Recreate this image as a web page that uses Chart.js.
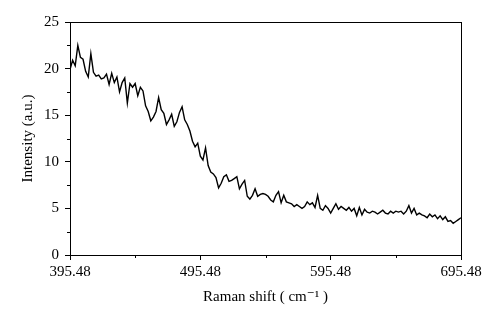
<!DOCTYPE html>
<html>
<head>
<meta charset="utf-8">
<script src="https://cdn.jsdelivr.net/npm/chart.js@4.4.1/dist/chart.umd.min.js"></script>
<style>
  html, body { margin: 0; padding: 0; background: #fff; }
  canvas { display: block; }
</style>
</head>
<body>
<canvas id="ramanChart" width="500" height="323"></canvas>
<script>
// sampling grid of the spectrum (cm^-1)
const shiftStart = 395.48;
const shiftStep = 2;

// intensity, one value per sample
const intensity = [
    19.9, 20.9, 20.3, 22.5, 21.2, 21.0, 19.7, 19.1, 21.6, 19.6,
    19.2, 19.3, 18.9, 19.0, 19.4, 18.3, 19.5, 18.5, 19.1, 17.5,
    18.5, 19.0, 16.3, 18.4, 18.0, 18.4, 17.1, 18.0, 17.6, 16.0,
    15.4, 14.4, 14.8, 15.4, 16.9, 15.6, 15.2, 14.0, 14.5, 15.1,
    13.8, 14.3, 15.3, 15.9, 14.5, 14.0, 13.3, 12.2, 11.6, 12.0,
    10.6, 10.2, 11.5, 9.6, 8.9, 8.7, 8.3, 7.2, 7.7, 8.4,
    8.6, 7.9, 8.0, 8.2, 8.4, 7.1, 7.6, 8.0, 6.3, 6.0,
    6.4, 7.1, 6.3, 6.5, 6.6, 6.5, 6.3, 5.9, 5.7, 6.4,
    6.8, 5.6, 6.4, 5.7, 5.6, 5.5, 5.2, 5.4, 5.2, 5.0,
    5.2, 5.7, 5.4, 5.6, 5.1, 6.4, 5.0, 4.8, 5.3, 5.0,
    4.5, 5.0, 5.5, 4.9, 5.2, 5.0, 4.8, 5.1, 4.7, 5.0,
    4.2, 5.1, 4.3, 4.9, 4.6, 4.5, 4.7, 4.6, 4.4, 4.6,
    4.8, 4.5, 4.4, 4.7, 4.5, 4.7, 4.6, 4.7, 4.4, 4.7,
    5.3, 4.5, 5.0, 4.3, 4.5, 4.3, 4.2, 4.0, 4.4, 4.1,
    4.3, 3.9, 4.2, 3.8, 4.1, 3.6, 3.7, 3.4, 3.6, 3.8,
    4.0
];

const xTicks = [395.48, 495.48, 595.48, 695.48];
const xMinorTicks = [445.48, 545.48, 645.48];
const yTicks = [0, 5, 10, 15, 20, 25];
const yMinorTicks = [2.5, 7.5, 12.5, 17.5, 22.5];

const points = intensity.map((v, i) => ({ x: shiftStart + i * shiftStep, y: v }));

const serif = "'Liberation Serif', 'DejaVu Serif', serif";

// box around the plot plus the short minor ticks
const frameAndMinor = {
    id: 'frameAndMinor',
    afterDraw(chart) {
        const { ctx, chartArea: a, scales } = chart;
        ctx.save();
        ctx.strokeStyle = '#000';
        ctx.lineWidth = 1;
        ctx.strokeRect(a.left + 0.5, a.top + 0.5, a.right - a.left, a.bottom - a.top);
        ctx.beginPath();
        xMinorTicks.forEach(v => {
            const px = Math.round(scales.x.getPixelForValue(v)) + 0.5;
            ctx.moveTo(px, a.bottom);
            ctx.lineTo(px, a.bottom + 3);
        });
        yMinorTicks.forEach(v => {
            const py = Math.round(scales.y.getPixelForValue(v)) + 0.5;
            ctx.moveTo(a.left, py);
            ctx.lineTo(a.left - 3, py);
        });
        ctx.stroke();
        ctx.restore();
    }
};

new Chart(document.getElementById('ramanChart'), {
    type: 'line',
    data: {
        datasets: [{
            data: points,
            borderColor: '#000',
            borderWidth: 1.4,
            pointRadius: 0,
            tension: 0,
            fill: false
        }]
    },
    options: {
        responsive: false,
        animation: false,
        layout: { padding: { left: 0, top: 22, right: 39, bottom: 0 } },
        plugins: { legend: { display: false }, tooltip: { enabled: false } },
        scales: {
            x: {
                type: 'linear',
                min: 395.48,
                max: 695.48,
                afterBuildTicks: s => { s.ticks = xTicks.map(v => ({ value: v })); },
                afterFit: s => { s.height = 68; },
                ticks: {
                    color: '#000',
                    font: { family: serif, size: 15 },
                    padding: 3,
                    maxRotation: 0,
                    callback: v => v.toFixed(2)
                },
                grid: { drawOnChartArea: false, drawTicks: true, tickLength: 5, color: '#000', tickColor: '#000' },
                border: { color: '#000', width: 1 },
                title: {
                    display: true,
                    text: 'Raman shift ( cm\u207B\u00B9 )',
                    color: '#000',
                    font: { family: serif, size: 15 },
                    padding: { top: 0, bottom: 17 }
                }
            },
            y: {
                min: 0,
                max: 25,
                afterBuildTicks: s => { s.ticks = yTicks.map(v => ({ value: v })); },
                afterFit: s => { s.width = 70; },
                ticks: {
                    color: '#000',
                    font: { family: serif, size: 15 },
                    padding: 6
                },
                grid: { drawOnChartArea: false, drawTicks: true, tickLength: 5, color: '#000', tickColor: '#000' },
                border: { color: '#000', width: 1 },
                title: {
                    display: true,
                    text: 'Intensity (a.u.)',
                    color: '#000',
                    font: { family: serif, size: 15 },
                    padding: { top: 19, bottom: 0 }
                }
            }
        }
    },
    plugins: [frameAndMinor]
});
</script>
</body>
</html>
